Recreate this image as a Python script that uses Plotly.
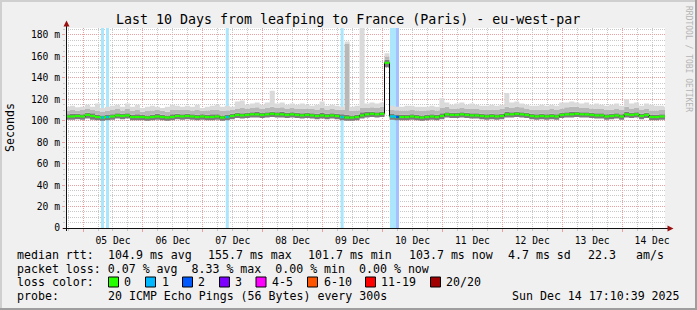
import pandas as pd
import plotly.graph_objects as go

# ---------------- data ----------------
# 2-hour bins starting 2025-12-04 16:48 (121 bins), values in ms
median = [104, 104, 104.5, 104, 105.5, 104.5, 103.5, 103, 103.5, 104, 105, 104.5,
          105, 103.5, 103.5, 103.5, 103, 103.5, 104, 103.5, 103, 103.5, 104.5, 104,
          104.5, 104, 103.5, 104, 103.5, 103.5, 104, 103, 103.5, 104.5, 105.5, 105,
          105.5, 106, 106, 105.5, 106, 106.5, 106, 106, 105.5, 106, 105.5, 105,
          105.5, 105, 104.5, 105, 104.5, 105, 104.5, 103.5, 103, 103, 103.5, 105,
          106, 106.5, 106, 106.5, 154, 104, 103.5, 103.5, 103.5, 104, 103.5, 103,
          103.5, 104, 103.5, 104.5, 106, 105.5, 105.5, 106, 105.5, 105, 105, 104.5,
          104, 104.5, 104, 104.5, 106, 106, 106.5, 106, 105.5, 104.5, 104, 104.5,
          104, 104.5, 104, 105.5, 106, 106, 106.5, 106, 106, 105.5, 105, 105,
          104, 104.5, 105, 104, 106, 105.5, 106, 104.5, 105.5, 103.5, 103.5, 104,
          104]
smoke_low = [101, 101, 101.5, 101, 102, 101, 100.5, 100, 100.5, 101, 102, 101.5,
             102, 100.5, 100.5, 100.5, 100, 100.5, 101, 100.5, 100, 100.5, 101.5, 101,
             101.5, 101, 100.5, 101, 100.5, 100.5, 101, 100, 100.5, 101.5, 102.5, 102,
             102.5, 103, 103, 102.5, 103, 103.5, 103, 103, 102.5, 103, 102.5, 102,
             102.5, 102, 101.5, 102, 101.5, 102, 101.5, 100.5, 100, 100, 100.5, 102,
             103, 103.5, 103, 103.5, 150, 101, 100.5, 100.5, 100.5, 101, 100.5, 100,
             100.5, 101, 100.5, 101.5, 103, 102.5, 102.5, 103, 102.5, 102, 102, 101.5,
             101, 101.5, 101, 101.5, 103, 103, 103.5, 103, 102.5, 101.5, 101, 101.5,
             101, 101.5, 101, 102.5, 103, 103, 103.5, 103, 103, 102.5, 102, 102,
             101, 101.5, 102, 101, 103, 102.5, 103, 101.5, 102.5, 100.5, 100.5, 101,
             101]
smoke_dark = [106, 106.5, 106.5, 106, 107.5, 107, 105.5, 105, 105.5, 106, 107, 106.5,
              107, 105.5, 106, 105.5, 105, 105.5, 106.5, 105.5, 105, 106, 106.5, 106,
              106.5, 106, 105.5, 106, 105.5, 106, 106, 105, 105.5, 106.5, 107.5, 107,
              107.5, 108, 108.5, 107.5, 108, 108.5, 108, 108.5, 107.5, 108, 107.5, 107,
              107.5, 107, 106.5, 107.5, 106.5, 107, 106.5, 106, 105.5, 105, 105.5, 108,
              108.5, 108.5, 108, 108.5, 157, 106.5, 105.5, 105.5, 105.5, 106, 105.5, 105,
              105.5, 106, 105.5, 107, 108, 107.5, 107.5, 108, 107.5, 107, 107, 106.5,
              106, 106.5, 106, 106.5, 108.5, 108, 108.5, 108, 107.5, 106.5, 106, 106.5,
              106, 106.5, 106, 107.5, 108, 108.5, 108.5, 108, 108, 107.5, 107, 107,
              106, 106.5, 107, 106, 108.5, 107.5, 108, 106.5, 107.5, 105.5, 105.5, 106,
              106]
smoke_mid = [109, 110, 109, 110, 111, 110, 109, 108.5, 109, 110, 111, 109.5,
             111, 109, 110, 108.5, 109, 109.5, 110, 109, 108.5, 110, 110.5, 110,
             110, 109.5, 110, 109, 109.5, 110, 110.5, 109, 109.5, 110, 111.5, 112,
             111.5, 112, 112.5, 111, 112, 113, 112, 112.5, 111.5, 112, 111, 111,
             111.5, 111, 110.5, 112, 110.5, 111, 110.5, 110, 172, 109, 109.5, 112,
             112, 112.5, 112, 113, 160, 110, 109.5, 109.5, 109.5, 110, 109.5, 109,
             109.5, 110, 109.5, 112, 113, 111.5, 111.5, 112, 111.5, 111, 111, 110.5,
             110, 110.5, 110, 111, 113, 112, 113, 112.5, 111.5, 110.5, 110, 110.5,
             110, 111, 110, 111.5, 112.5, 113, 113, 112, 112, 111.5, 111, 111,
             110, 110.5, 111, 110, 113, 111.5, 112, 110.5, 111.5, 109.5, 109.5, 110,
             110]
smoke_high = [113, 114, 112.5, 113, 115, 113, 116, 112, 113, 114, 115, 113,
              116, 113, 115, 112, 113, 114, 113, 112, 113, 115, 114, 113,
              114, 113, 115, 112, 113, 114, 115, 113, 114, 113, 118, 119,
              115, 116, 117, 115, 117, 128, 116, 117, 115, 116, 115, 116,
              115, 114, 115, 118, 114, 115, 114, 113, 174, 113, 114, 190,
              116, 117, 116, 117, 163, 114, 113, 113, 114, 114, 113, 113,
              113, 114, 113, 121, 117, 115, 116, 117, 115, 116, 115, 114,
              114, 115, 114, 115, 126, 117, 118, 116, 115, 114, 114, 115,
              114, 115, 114, 117, 117, 118, 117, 116, 117, 115, 116, 115,
              114, 115, 116, 114, 120, 116, 117, 114, 116, 115, 114, 114,
              113]

loss_time = ["2025-12-05 07:48", "2025-12-05 09:48", "2025-12-07 09:48",
             "2025-12-09 07:48", "2025-12-10 03:36", "2025-12-10 04:48",
             "2025-12-10 06:00"]
loss_count = [1, 1, 1, 1, 1, 1, 2]
loss_rtt = [103, 103.5, 103.5, 103.5, 104, 104, 103.5]

loss_labels = ["0", "1", "2", "3", "4-5", "6-10", "11-19", "20/20"]
loss_colors = ["#26ff00", "#00b8ff", "#0059ff", "#7e00ff", "#ff00ff", "#ff5500", "#ff0000", "#a10000"]
loss_tints = {1: "#abe6fd", 2: "#a6bfff"}

y_ticks = [0, 20, 40, 60, 80, 100, 120, 140, 160, 180]
y_ticktext = ["0"] + [f"{v} m" for v in y_ticks[1:]]

rtt_row = [("median rtt:", 16), ("104.9 ms avg", 107), ("155.7 ms max", 207), ("101.7 ms min", 307),
           ("103.7 ms now", 408), ("4.7 ms sd", 507), ("22.3", 587), ("am/s", 635)]
loss_row = "packet loss: 0.07 % avg  8.33 % max  0.00 % min  0.00 % now"
probe_text = "20 ICMP Echo Pings (56 Bytes) every 300s"
date_text = "Sun Dec 14 17:10:39 2025"
title_text = "Last 10 Days from leafping to France (Paris) - eu-west-par"

# ---------------- layout geometry ----------------
W, H = 697, 310
L, T = 66, 28
PW, PH = 599, 200
R = W - L - PW
B = H - T - PH
Y_TOP = 186.5
FONT = "DejaVu Sans Mono"

t_end = pd.Timestamp("2025-12-14 17:10:39")
t_start = t_end - pd.Timedelta(days=10)
times = pd.date_range("2025-12-04 16:48", periods=len(median) + 1, freq="2h")


def px(x):
    return (x - L) / PW


def py(y):
    return (T + PH - y) / PH


def ext(a):
    return list(a) + [a[-1]]


fig = go.Figure()

# loss background bars
for t, c in zip(loss_time, loss_count):
    fig.add_trace(go.Bar(x=[t], y=[Y_TOP], base=0, width=1.2 * 3600 * 1000,
                         marker=dict(color=loss_tints[c], line=dict(width=0)),
                         hoverinfo="skip", showlegend=False))

# smoke bands
band_specs = [(smoke_low, None, None), (smoke_dark, "tonexty", "#7c7c7c"),
              (smoke_mid, "tonexty", "#b8b8b8"), (smoke_high, "tonexty", "#dadada")]
for arr, fill, col in band_specs:
    fig.add_trace(go.Scatter(x=times, y=ext(arr), mode="lines", line=dict(width=0, shape="hv"),
                             fill=fill, fillcolor=col, hoverinfo="skip", showlegend=False))

# median: black step line + green horizontal segments
fig.add_trace(go.Scatter(x=times, y=ext(median), mode="lines",
                         line=dict(color="#000000", width=1, shape="hv"),
                         hoverinfo="skip", showlegend=False))
seg_x, seg_y = [], []
for k, v in enumerate(median):
    seg_x += [times[k], times[k + 1], None]
    seg_y += [v, v, None]
fig.add_trace(go.Scatter(x=seg_x, y=seg_y, mode="lines", connectgaps=False,
                         line=dict(color=loss_colors[0], width=2.2),
                         hoverinfo="skip", showlegend=False))
for t, c, r in zip(loss_time, loss_count, loss_rtt):
    tt = pd.Timestamp(t)
    fig.add_trace(go.Scatter(x=[tt - pd.Timedelta(minutes=36), tt + pd.Timedelta(minutes=36)],
                             y=[r, r], mode="lines", line=dict(color=loss_colors[c], width=2.2),
                             hoverinfo="skip", showlegend=False))

shapes = []
# frame shading
shapes += [
    dict(type="rect", xref="paper", yref="paper", x0=px(0), x1=px(W), y0=py(0), y1=py(2),
         fillcolor="#cfcfcf", line=dict(width=0)),
    dict(type="rect", xref="paper", yref="paper", x0=px(0), x1=px(2), y0=py(0), y1=py(H),
         fillcolor="#cfcfcf", line=dict(width=0)),
    dict(type="rect", xref="paper", yref="paper", x0=px(0), x1=px(W), y0=py(H - 2), y1=py(H),
         fillcolor="#9e9e9e", line=dict(width=0)),
    dict(type="rect", xref="paper", yref="paper", x0=px(W - 2), x1=px(W), y0=py(0), y1=py(H),
         fillcolor="#9e9e9e", line=dict(width=0)),
]
# axes lines and arrows
shapes += [
    dict(type="line", xref="paper", yref="paper", x0=px(63), x1=px(669), y0=py(228.5), y1=py(228.5),
         line=dict(color="#101010", width=1), layer="above"),
    dict(type="line", xref="paper", yref="paper", x0=px(66.5), x1=px(66.5), y0=py(231), y1=py(24),
         line=dict(color="#101010", width=1), layer="above"),
    dict(type="path", xref="paper", yref="paper",
         path=f"M {px(63.5)} {py(26.5)} L {px(69.5)} {py(26.5)} L {px(66.5)} {py(20.5)} Z",
         fillcolor="#9a1010", line=dict(width=0), layer="above"),
    dict(type="path", xref="paper", yref="paper",
         path=f"M {px(667.5)} {py(225.5)} L {px(667.5)} {py(231.5)} L {px(673.5)} {py(228.5)} Z",
         fillcolor="#9a1010", line=dict(width=0), layer="above"),
]
# legend colour boxes
box_x = [108.5, 145.5, 182.5, 219.5, 256, 307.5, 365.5, 430.5]
for bx, col in zip(box_x, loss_colors):
    shapes.append(dict(type="rect", xref="paper", yref="paper", x0=px(bx), x1=px(bx + 10),
                       y0=py(287), y1=py(277), fillcolor=col, line=dict(color="#000000", width=1)))

annotations = []


def ann(text, x, y, size=11.6, xanchor="left", color="#000000", angle=0):
    annotations.append(dict(text=text, x=px(x), y=py(y), xref="paper", yref="paper",
                            xanchor=xanchor, yanchor="middle", showarrow=False, borderpad=0,
                            textangle=angle, font=dict(family=FONT, size=size, color=color)))


ann(title_text, 347.5, 19, size=13.3, xanchor="center")
ann("Seconds", 10, 128, angle=-90, xanchor="center")
ann("RRDTOOL / TOBI OETIKER", 689, 59, size=8, xanchor="center", color="#b4b4b4", angle=90)
for text, xx in rtt_row:
    ann(text, xx, 255)
ann(loss_row.replace(" ", "&nbsp;"), 16, 268.5)
ann("loss color:", 16, 282)
text_x = [123, 161, 197, 234, 271, 322.7, 380, 445]
for lbl, tx in zip(loss_labels, text_x):
    ann(lbl, tx, 282)
ann("probe:", 16, 295.7)
ann(probe_text, 107, 295.7)
ann(date_text, 681, 295.7, xanchor="right")

fig.update_layout(
    width=W, height=H, margin=dict(l=L, r=R, t=T, b=B, pad=0),
    paper_bgcolor="#f0f0f0", plot_bgcolor="#ffffff",
    barmode="overlay", showlegend=False,
    shapes=shapes, annotations=annotations,
    font=dict(family=FONT, color="#000000"),
    xaxis=dict(type="date", range=[t_start, t_end], tick0="2025-12-05", dtick=86400000,
               ticklabelmode="period", tickformat="%d %b", showline=False, zeroline=False,
               showgrid=True, gridcolor="#e9a0a0", griddash="1px,1px", gridwidth=1,
               ticks="outside", ticklen=3, tickcolor="#e9a0a0",
               tickfont=dict(family=FONT, size=9.7, color="#000000"),
               minor=dict(dtick=6 * 3600 * 1000, showgrid=True, gridcolor="#c8c8c8",
                          griddash="1px,1px", ticks="outside", ticklen=2, tickcolor="#c8c8c8"),
               fixedrange=True),
    yaxis=dict(range=[0, Y_TOP], tickvals=y_ticks, ticktext=y_ticktext, showline=False,
               zeroline=False, showgrid=True, gridcolor="#e9a0a0", griddash="1px,1px",
               ticks="outside", ticklen=3, tickcolor="#e9a0a0",
               tickfont=dict(family=FONT, size=9.7, color="#000000"),
               minor=dict(dtick=5, showgrid=True, gridcolor="#c8c8c8", griddash="1px,1px",
                          ticks="outside", ticklen=2, tickcolor="#c8c8c8"),
               fixedrange=True),
)

fig.write_html("out.html", config={"displayModeBar": False})
